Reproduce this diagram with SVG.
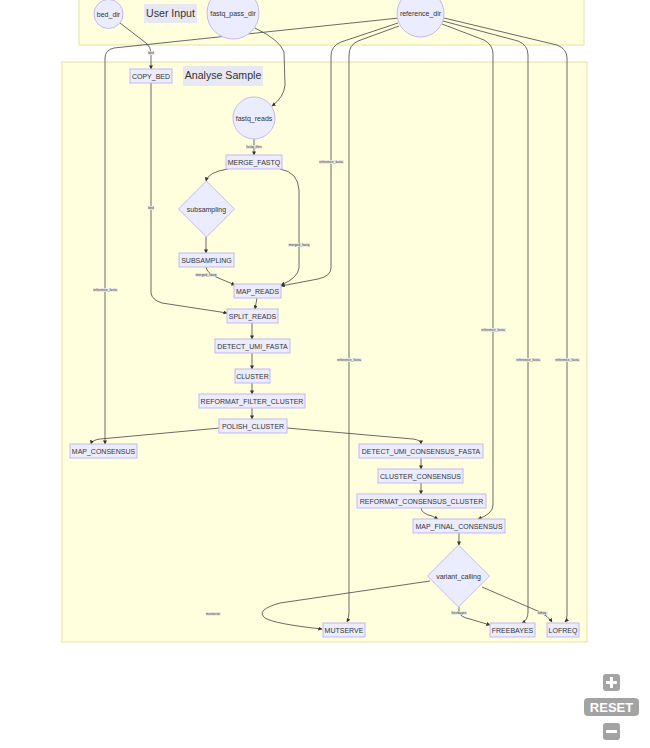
<svg xmlns="http://www.w3.org/2000/svg" width="650" height="748" viewBox="0 0 650 748">
  <style>
    .cluster { fill: #ffffde; stroke: #e2e2a8; stroke-width: 1; }
    .clabel-bg { fill: #e8e8f4; }
    .clabel { font-family: "Liberation Sans", Arial, sans-serif; font-size: 10.6px; fill: #333; }
    .node rect, .node circle, .node polygon { fill: #ececff; stroke: #c6b8f0; stroke-width: 1; }
    .node text { font-family: "Liberation Sans", Arial, sans-serif; font-size: 7px; fill: #333; text-anchor: middle; dominant-baseline: central; }
    .edge { fill: none; stroke: #444; stroke-width: 0.8; marker-end: url(#arrow); }
    .elabel-bg { fill: #e8e8e8; opacity: 0.85; }
    .elabel { font-family: "Liberation Sans", Arial, sans-serif; font-size: 3.4px; fill: #333; text-anchor: middle; dominant-baseline: central; }
    .ctrl { fill: #a3a3a3; }
    .ctrl-text { font-family: "Liberation Sans", Arial, sans-serif; font-weight: bold; font-size: 13px; fill: #fff; text-anchor: middle; }
  </style>
  <defs>
    <marker id="arrow" viewBox="0 0 10 10" refX="9" refY="5" markerWidth="4" markerHeight="4" markerUnits="userSpaceOnUse" orient="auto">
      <path d="M0,0 L10,5 L0,10 z" fill="#333"/>
    </marker>
  </defs>

  <rect width="650" height="748" fill="#ffffff"/>

  <!-- subgraphs -->
  <g id="cluster-user-input">
    <rect class="cluster" x="79" y="-10" width="505" height="55"/>
    <rect class="clabel-bg" x="144" y="4" width="53" height="19"/>
    <text class="clabel" x="170.5" y="17" text-anchor="middle">User Input</text>
  </g>
  <g id="cluster-analyse-sample">
    <rect class="cluster" x="62" y="62" width="525" height="580"/>
    <rect class="clabel-bg" x="183" y="66" width="80" height="20"/>
    <text class="clabel" x="223" y="79" text-anchor="middle">Analyse Sample</text>
  </g>

  <!-- connectors -->
  <g id="edges">
    <path class="edge" d="M120,23 L146,43 Q151,47 151,53 L151,69"/>
    <path class="edge" d="M151,83 L151,293 Q152,300 162,303 L227,313"/>
    <path class="edge" d="M255,28 Q280,40 284,52 L285,85 Q284,97 272,106"/>
    <path class="edge" d="M254,139 L254,155"/>
    <path class="edge" d="M228,169 Q208,172 206,181"/>
    <path class="edge" d="M280,169 Q298,172 299,190 L299,268 Q298,278 281,285"/>
    <path class="edge" d="M206,237 L206,253"/>
    <path class="edge" d="M206,267 Q207,273 216,277 L235,285"/>
    <path class="edge" d="M398,23 L341,42 Q331,46 331,56 L331,268 Q331,276 318,279 L281,286"/>
    <path class="edge" d="M399,18 L114,48 Q105,50 105,58 L105,444"/>
    <path class="edge" d="M399,26 L358,41 Q349,45 349,55 L349,612 Q349,618 347,622"/>
    <path class="edge" d="M442,24 L484,40 Q493,45 493,54 L493,505 Q493,514 478,519"/>
    <path class="edge" d="M443,21 L518,41 Q528,45 528,55 L528,612 Q528,620 522,623"/>
    <path class="edge" d="M444,18 L557,45 Q567,49 567,58 L567,615 Q567,620 565,622"/>
    <path class="edge" d="M257,298 L255,309"/>
    <path class="edge" d="M252,323 L252,339"/>
    <path class="edge" d="M252,353 L252,369"/>
    <path class="edge" d="M252,383 L252,394"/>
    <path class="edge" d="M252,408 L252,419"/>
    <path class="edge" d="M220,428 L100,439 Q92,440 91,444"/>
    <path class="edge" d="M287,428 L413,439 Q421,440 421,444"/>
    <path class="edge" d="M421,458 L421,469"/>
    <path class="edge" d="M421,483 L421,494"/>
    <path class="edge" d="M421,508 Q422,514 432,516 L438,519"/>
    <path class="edge" d="M459,533 L459,545"/>
    <path class="edge" d="M430,581 L280,603 Q255,610 265,618 Q275,624 322,629"/>
    <path class="edge" d="M459,607 L459,612 Q460,617 470,619 L490,625"/>
    <path class="edge" d="M482,587 L540,612 Q548,616 552,622"/>

    <!-- connector labels -->
    <g id="edge-labels">
      <rect class="elabel-bg" x="148" y="51" width="6" height="4"/><text class="elabel" x="151" y="53">bed</text>
      <rect class="elabel-bg" x="148" y="206" width="6" height="4"/><text class="elabel" x="151" y="208">bed</text>
      <rect class="elabel-bg" x="246" y="145" width="16" height="4"/><text class="elabel" x="254" y="147">fastq_files</text>
      <rect class="elabel-bg" x="288" y="243" width="22" height="4"/><text class="elabel" x="299" y="245">merged_fastq</text>
      <rect class="elabel-bg" x="195" y="273" width="22" height="4"/><text class="elabel" x="206" y="275">merged_fastq</text>
      <rect class="elabel-bg" x="93" y="288" width="25" height="4"/><text class="elabel" x="105" y="290">reference_fasta</text>
      <rect class="elabel-bg" x="319" y="160" width="25" height="4"/><text class="elabel" x="331" y="162">reference_fasta</text>
      <rect class="elabel-bg" x="337" y="358" width="25" height="4"/><text class="elabel" x="349" y="360">reference_fasta</text>
      <rect class="elabel-bg" x="481" y="328" width="25" height="4"/><text class="elabel" x="493" y="330">reference_fasta</text>
      <rect class="elabel-bg" x="516" y="358" width="25" height="4"/><text class="elabel" x="528" y="360">reference_fasta</text>
      <rect class="elabel-bg" x="555" y="358" width="25" height="4"/><text class="elabel" x="567" y="360">reference_fasta</text>
      <rect class="elabel-bg" x="206" y="612" width="15" height="4"/><text class="elabel" x="213" y="614">mutserve</text>
      <rect class="elabel-bg" x="451" y="611" width="16" height="4"/><text class="elabel" x="459" y="613">freebayes</text>
      <rect class="elabel-bg" x="537" y="611" width="11" height="4"/><text class="elabel" x="542" y="613">lofreq</text>
    </g>
  </g>

  <!-- nodes -->
  <g id="bed_dir" class="node"><circle cx="108.5" cy="14" r="14.5"/><text x="108.5" y="14">bed_dir</text></g>
  <g id="fastq_pass_dir" class="node"><circle cx="233" cy="13" r="26"/><text x="233" y="13">fastq_pass_dir</text></g>
  <g id="reference_dir" class="node"><circle cx="420.5" cy="13.5" r="23.5"/><text x="420.5" y="13.5">reference_dir</text></g>
  <g id="COPY_BED" class="node"><rect x="130" y="69" width="42" height="14"/><text x="151" y="76">COPY_BED</text></g>
  <g id="fastq_reads" class="node"><circle cx="254" cy="118" r="21"/><text x="254" y="118">fastq_reads</text></g>
  <g id="MERGE_FASTQ" class="node"><rect x="226" y="155" width="56" height="14"/><text x="254" y="162">MERGE_FASTQ</text></g>
  <g id="subsampling" class="node"><polygon points="206.5,181 234.5,209 206.5,237 178.5,209"/><text x="206.5" y="209">subsampling</text></g>
  <g id="SUBSAMPLING" class="node"><rect x="179" y="253" width="55" height="14"/><text x="206.5" y="260">SUBSAMPLING</text></g>
  <g id="MAP_READS" class="node"><rect x="234" y="284" width="47" height="14"/><text x="257.5" y="291">MAP_READS</text></g>
  <g id="SPLIT_READS" class="node"><rect x="227" y="309" width="51" height="14"/><text x="252.5" y="316">SPLIT_READS</text></g>
  <g id="DETECT_UMI_FASTA" class="node"><rect x="215" y="339" width="75" height="14"/><text x="252.5" y="346">DETECT_UMI_FASTA</text></g>
  <g id="CLUSTER" class="node"><rect x="235" y="369" width="35" height="14"/><text x="252.5" y="376">CLUSTER</text></g>
  <g id="REFORMAT_FILTER_CLUSTER" class="node"><rect x="199" y="394" width="106" height="14"/><text x="252" y="401">REFORMAT_FILTER_CLUSTER</text></g>
  <g id="POLISH_CLUSTER" class="node"><rect x="219" y="419" width="68" height="14"/><text x="253" y="426">POLISH_CLUSTER</text></g>
  <g id="MAP_CONSENSUS" class="node"><rect x="70" y="444" width="67" height="14"/><text x="103.5" y="451">MAP_CONSENSUS</text></g>
  <g id="DETECT_UMI_CONSENSUS_FASTA" class="node"><rect x="359" y="444" width="124" height="14"/><text x="421" y="451">DETECT_UMI_CONSENSUS_FASTA</text></g>
  <g id="CLUSTER_CONSENSUS" class="node"><rect x="378" y="469" width="85" height="14"/><text x="420.5" y="476">CLUSTER_CONSENSUS</text></g>
  <g id="REFORMAT_CONSENSUS_CLUSTER" class="node"><rect x="357" y="494" width="129" height="14"/><text x="421.5" y="501">REFORMAT_CONSENSUS_CLUSTER</text></g>
  <g id="MAP_FINAL_CONSENSUS" class="node"><rect x="413" y="519" width="92" height="14"/><text x="459" y="526">MAP_FINAL_CONSENSUS</text></g>
  <g id="variant_calling" class="node"><polygon points="458.5,545 489.5,576 458.5,607 427.5,576"/><text x="458.5" y="576">variant_calling</text></g>
  <g id="MUTSERVE" class="node"><rect x="323" y="623" width="42" height="14"/><text x="344" y="630">MUTSERVE</text></g>
  <g id="FREEBAYES" class="node"><rect x="490" y="623" width="45" height="14"/><text x="512.5" y="630">FREEBAYES</text></g>
  <g id="LOFREQ" class="node"><rect x="547" y="623" width="32" height="14"/><text x="563" y="630">LOFREQ</text></g>

  <!-- pan/zoom controls -->
  <g id="zoom-controls">
    <rect class="ctrl" x="603" y="674" width="17" height="17" rx="3"/>
    <rect x="610" y="677" width="3" height="11" fill="#fff"/>
    <rect x="606" y="681" width="11" height="3" fill="#fff"/>
    <rect class="ctrl" x="584" y="698" width="55" height="18" rx="4"/>
    <text class="ctrl-text" x="611.5" y="712">RESET</text>
    <rect class="ctrl" x="603" y="723" width="17" height="17" rx="3"/>
    <rect x="606" y="730" width="11" height="3" fill="#fff"/>
  </g>
</svg>
